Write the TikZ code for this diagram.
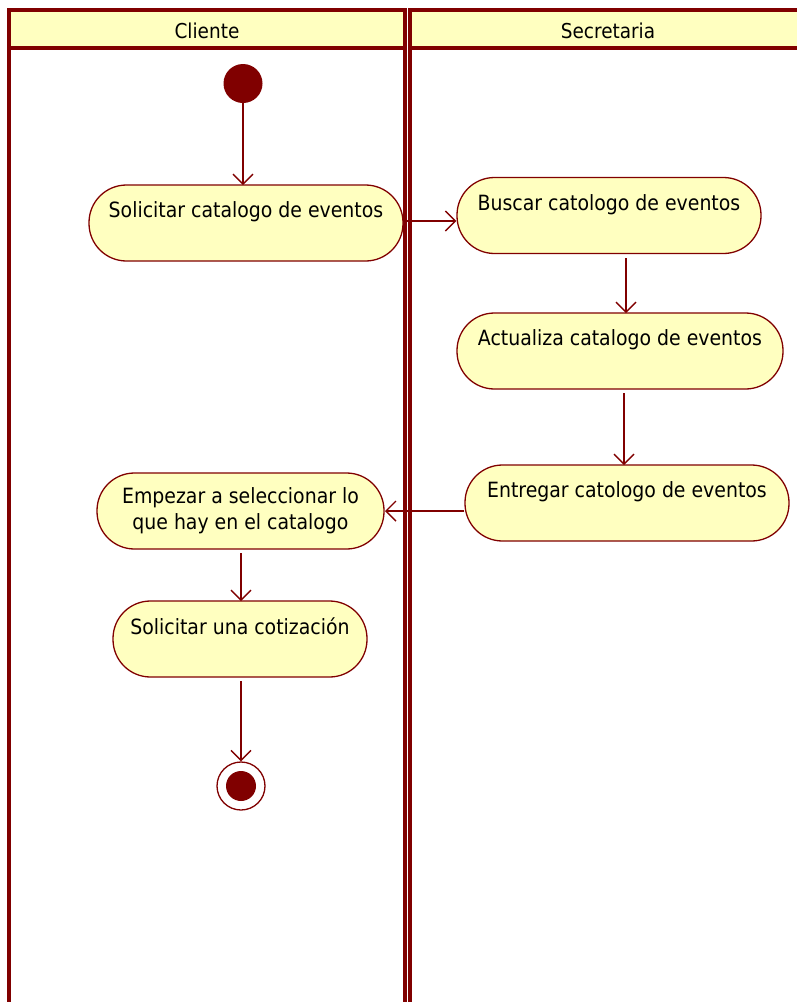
\documentclass[tikz,border=0pt]{standalone}
\usepackage{fontspec}
\setmainfont{DejaVu Sans Condensed}
\usetikzlibrary{arrows.meta}
\definecolor{umlred}{HTML}{800000}
\definecolor{umlfill}{HTML}{FFFFC0}
\begin{document}
\begin{tikzpicture}[x=1pt,y=-1pt,
  lane/.style={draw=umlred,line width=3.5pt},
  head/.style={draw=umlred,fill=umlfill,line width=3.5pt},
  lanetitle/.style={font=\fontsize{20.5}{22}\selectfont,text=black},
  action/.style={draw=umlred,fill=umlfill,line width=1.3pt,rounded corners=37.5pt,
    minimum height=76pt,inner sep=0pt,align=center,
    font=\fontsize{21}{26}\selectfont,text=black},
  flow/.style={draw=umlred,line width=1.4pt,-{Straight Barb[length=10pt,width=20pt,line width=1.4pt]}},
  startnode/.style={circle,fill=umlred,minimum size=39pt,inner sep=0pt},
  endouter/.style={circle,draw=umlred,fill=white,line width=1.3pt,minimum size=48pt,inner sep=0pt},
  endinner/.style={circle,fill=umlred,minimum size=30pt,inner sep=0pt}]
\useasboundingbox (0,0) rectangle (797,1002);
\clip (0,0) rectangle (797,1002);
% swimlanes
\draw[lane] (9,10) rectangle (405,1020);
\draw[lane] (410,10) rectangle (812,1020);
\draw[head] (9,10) rectangle (405,48);
\draw[head] (410,10) rectangle (812,48);
\node[lanetitle] (tcli) at (207,31) {Cliente};
\node[lanetitle] (tsec) at (608,31) {Secretaria};
% start / end
\node[startnode] (ini) at (243,83.5) {};
\node[endouter] (fin) at (241,786) {};
\node[endinner] (fini) at (241,786) {};
% actions
\node[action,minimum width=314pt] (a1) at (246,223) {Solicitar catalogo de eventos\\\mbox{}};
\node[action,minimum width=304pt] (a2) at (609,215.5) {Buscar catologo de eventos\\\mbox{}};
\node[action,minimum width=326pt] (a3) at (620,351) {Actualiza catalogo de eventos\\\mbox{}};
\node[action,minimum width=324pt] (a4) at (627,503) {Entregar catologo de eventos\\\mbox{}};
\node[action,minimum width=287pt] (a5) at (240.5,511) {Empezar a seleccionar lo\\que hay en el catalogo};
\node[action,minimum width=254pt] (a6) at (240,639) {Solicitar una cotización\\\mbox{}};
% control flow
\draw[flow] (ini.south) -- (243,185);
\draw[flow] (a1.east |- 0,221) -- (a2.west |- 0,221);
\draw[flow] (626,258) -- (626,313);
\draw[flow] (624,393) -- (624,465);
\draw[flow] (a4.west |- 0,511) -- (385,511);
\draw[flow] (241,553) -- (241,601);
\draw[flow] (fin.north |- 0,681) -- (fin.north);
\end{tikzpicture}
\end{document}
